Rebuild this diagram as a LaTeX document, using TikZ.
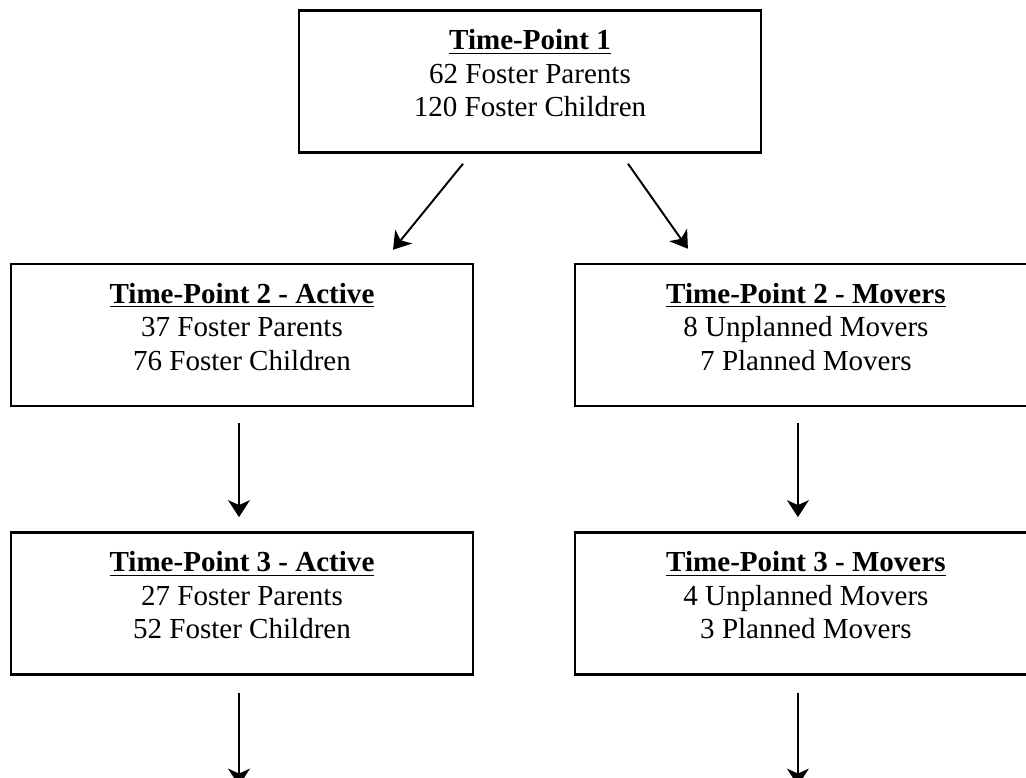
\documentclass[tikz,border=0pt]{standalone}
\usepackage{fontspec}
\setmainfont{Liberation Serif}
\usetikzlibrary{positioning,calc,arrows.meta}

\begin{document}
\begin{tikzpicture}[x=0.4132pt, y=0.4132pt, node distance=51.2pt and 41.1pt, every node/.style={font=\fontsize{12}{13.8}\selectfont}]
\tikzstyle{box}=[draw, line width=1pt, minimum width=190.9pt, minimum height=58.7pt, align=center, text depth=7pt]
\tikzstyle{arr}=[-{Stealth[length=7pt, width=9pt, inset=2pt]}, line width=0.8pt]
\useasboundingbox (0,0) rectangle (1026,-778);
\clip (0,0) rectangle (1026,-778);
\node[box] (tp1) at (530,-81.5) {\underline{\textbf{Time-Point 1}}\\62 Foster Parents\\120 Foster Children};
\node[box] (tp2a) at (242,-335) {\underline{\textbf{Time-Point 2 - Active}}\\37 Foster Parents\\76 Foster Children};
\node[box, right=of tp2a] (tp2m) {\underline{\textbf{Time-Point 2 - Movers}}\\8 Unplanned Movers\\7 Planned Movers};
\node[box, below=of tp2a] (tp3a) {\underline{\textbf{Time-Point 3 - Active}}\\27 Foster Parents\\52 Foster Children};
\node[box, below=of tp2m] (tp3m) {\underline{\textbf{Time-Point 3 - Movers}}\\4 Unplanned Movers\\3 Planned Movers};
\coordinate (end3a) at ($(tp3a.south)+(-3,-110)$);
\coordinate (end3m) at ($(tp3m.south)+(-8,-110)$);
\draw[arr] ($(tp1.south)+(-67,-10)$) -- ($(tp2a.north)+(151,13)$);
\draw[arr] ($(tp1.south)+(98,-10)$) -- ($(tp2m.north)+(-118,14)$);
\draw[arr] ($(tp2a.south)+(-3,-16)$) -- ($(tp3a.north)+(-3,14)$);
\draw[arr] ($(tp2m.south)+(-8,-16)$) -- ($(tp3m.north)+(-8,14)$);
\draw[arr] ($(tp3a.south)+(-3,-17)$) -- (end3a);
\draw[arr] ($(tp3m.south)+(-8,-17)$) -- (end3m);
\end{tikzpicture}
\end{document}
